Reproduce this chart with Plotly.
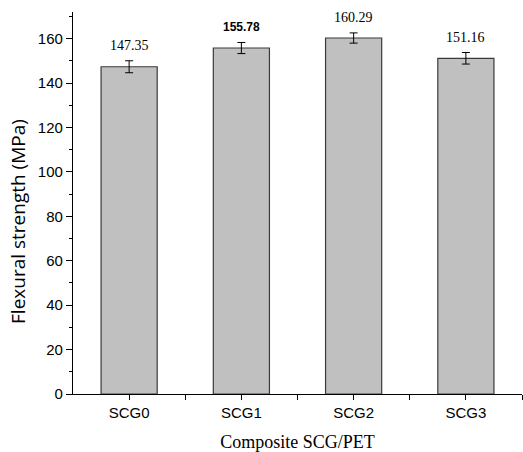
import plotly.graph_objects as go

categories = ["SCG0", "SCG1", "SCG2", "SCG3"]
strength = [147.35, 155.78, 160.29, 151.16]
errors = [2.7, 2.5, 2.3, 2.6]
labels = ["147.35", "<b>155.78</b>", "160.29", "151.16"]
label_fonts = ["Liberation Serif", "Liberation Sans", "Liberation Serif", "Liberation Serif"]

xpos = list(range(len(categories)))

fig = go.Figure()
fig.add_trace(go.Bar(
    x=xpos, y=strength, width=0.5,
    marker=dict(color="#c0c0c0", line=dict(color="#3a3a3a", width=1.2)),
    error_y=dict(type="data", array=errors, visible=True, color="black", thickness=1, width=4),
    showlegend=False,
))

for x, v, e, t, f in zip(xpos, strength, errors, labels, label_fonts):
    fig.add_annotation(x=x, y=v + e, text=t, showarrow=False, yanchor="bottom", yshift=6,
                       font=dict(family=f, size=14 if f == "Liberation Serif" else 12, color="black"))

fig.add_annotation(xref="paper", yref="paper", x=-0.1225, y=0.453, text="Flexural strength (MPa)",
                   textangle=-90, showarrow=False, xanchor="center", yanchor="middle",
                   font=dict(family="Open Sans", size=19, color="black"))

fig.update_layout(
    width=523, height=452,
    margin=dict(l=73, r=1, t=12, b=58),
    plot_bgcolor="white", paper_bgcolor="white",
    bargap=0.5,
)
fig.update_xaxes(
    range=[-0.5, 3.5], tickvals=xpos, ticktext=categories,
    showline=True, linecolor="black", linewidth=1.2,
    ticks="outside", ticklen=5, tickwidth=1, tickcolor="black",
    minor=dict(tickvals=[0.5, 1.5, 2.5, 3.5], ticks="outside", ticklen=5, tickwidth=1, tickcolor="black"),
    showgrid=False, zeroline=False,
    tickfont=dict(family="Liberation Sans", size=15, color="black"),
    title=dict(text="Composite SCG/PET", font=dict(family="Liberation Serif", size=18, color="black"), standoff=16),
)
fig.update_yaxes(
    range=[0, 172], tickvals=[0, 20, 40, 60, 80, 100, 120, 140, 160],
    showline=True, linecolor="black", linewidth=1.2,
    ticks="outside", ticklen=6, tickwidth=1, tickcolor="black",
    minor=dict(tickvals=[10, 30, 50, 70, 90, 110, 130, 150, 170], ticks="outside", ticklen=3, tickwidth=1, tickcolor="black"),
    showgrid=False, zeroline=False,
    tickfont=dict(family="Liberation Sans", size=15, color="black"),
)

fig.write_html("out.html", config={"displayModeBar": False},
               post_script="document.body.style.margin='0';")
